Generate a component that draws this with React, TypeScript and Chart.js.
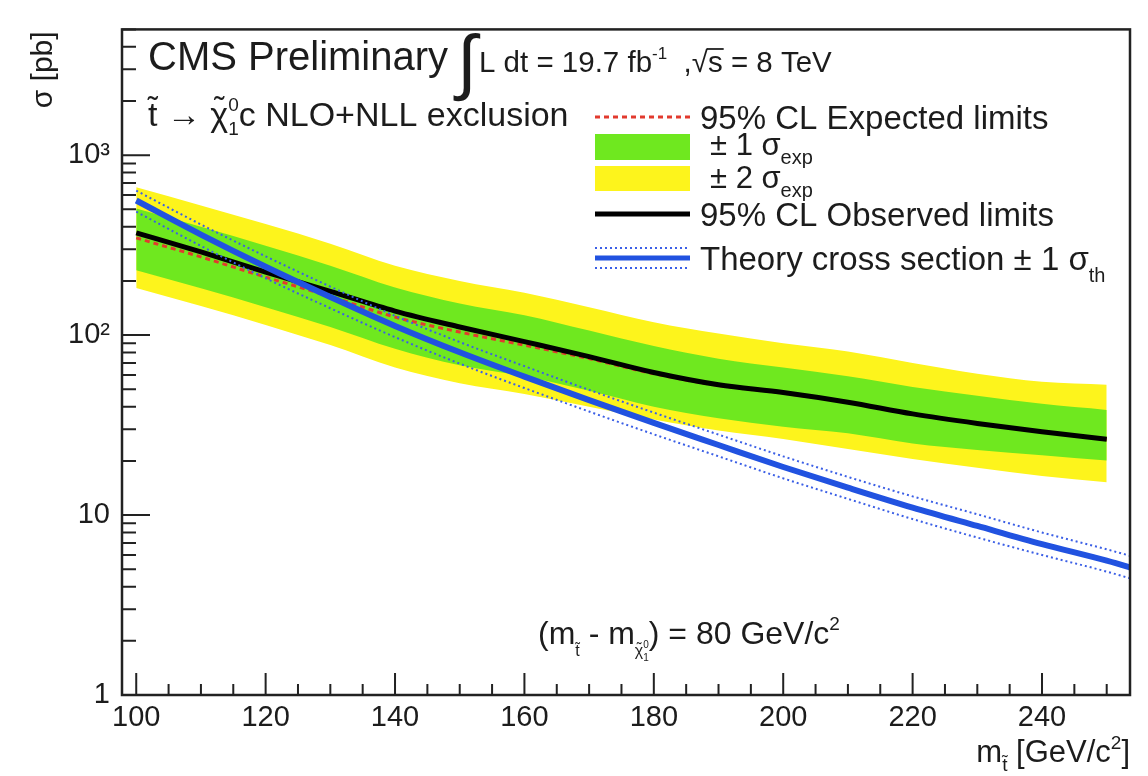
import React, { useEffect, useRef } from 'react';
import { Chart, registerables } from 'chart.js';

Chart.register(...registerables);

// ---------------- data ----------------
const massPoints = [100, 110, 120, 130, 140, 150, 160, 170, 180, 190, 200, 210, 220, 230, 240, 250];
const observedLimit = [370, 290, 224, 175, 136, 111, 92, 76, 62, 53, 48, 42.4, 36.5, 32.3, 29, 26.4];
const expectedLimit = [347, 272, 210, 164, 126, 104, 88, 74, 61, 52.5, 47.5, 42.4, 36.5, 32.3, 29, 26.4];
const expMinus2 = [183, 145, 114, 88, 66, 54, 47, 40, 34, 29.5, 26.5, 23.3, 20.5, 18.3, 16.5, 15.2];
const expMinus1 = [229, 182, 143, 111, 84, 68, 59, 49, 40, 34.5, 31, 28.5, 25, 23, 21.5, 20.1];
const expPlus1 = [505, 400, 314, 243, 184, 150, 129, 106, 87, 74, 66, 59, 51.5, 46, 41.5, 38.4];
const expPlus2 = [663, 525, 414, 322, 243, 200, 172, 143, 118, 102, 90, 81, 70, 61, 55, 53];

const theoryMass = [100, 110, 120, 130, 140, 150, 160, 170, 180, 190, 200, 210, 220, 230, 240, 250, 255];
const theoryXsec = [560, 362, 240, 163, 112.5, 80.3, 58.8, 43.5, 32.5, 24.5, 18.5, 14.2, 11.0, 8.7, 6.9, 5.58, 4.95];
const theoryUp = [635, 412, 274, 186, 128, 91.5, 67.2, 49.6, 37.1, 28, 21.2, 16.3, 12.7, 10.1, 8.0, 6.45, 5.75];
const theoryDown = [485, 313, 207, 141, 97.5, 69.4, 50.8, 37.6, 28.1, 21.2, 16.0, 12.3, 9.5, 7.5, 6.0, 4.85, 4.3];

const xTickValues = [100, 120, 140, 160, 180, 200, 220, 240];
const xMinorStep = 5;
const yTickValues = [1, 10, 100, 1000];
const yTickLabels = ['1', '10', '10²', '10³'];

const X_MIN = 97.8;
const X_MAX = 253.6;
const Y_MIN = 1;
const Y_MAX = 5000;

// ---------------- style ----------------
const FONT = '"Liberation Sans", Arial, Helvetica, sans-serif';
const BLUE = '#2152e0';
const BLUE_DOT = '#3b5fe6';
const RED = '#e23a2e';
const GREEN = '#6fe81f';
const YELLOW = '#fdf41c';
const TEXT = '#1c1c1c';

type Part = { t: string; s: number; dy?: number; noAdv?: boolean; tilde?: boolean; overline?: boolean };

function measureRich(ctx: CanvasRenderingContext2D, parts: Part[]) {
  let w = 0;
  for (const p of parts) {
    ctx.font = `${p.s}px ${FONT}`;
    if (!p.noAdv) w += ctx.measureText(p.t).width;
  }
  return w;
}

function drawRich(ctx: CanvasRenderingContext2D, x: number, y: number, parts: Part[]) {
  let cx = x;
  ctx.fillStyle = TEXT;
  ctx.textBaseline = 'alphabetic';
  ctx.textAlign = 'left';
  for (const p of parts) {
    ctx.font = `${p.s}px ${FONT}`;
    const w = ctx.measureText(p.t).width;
    const by = y + (p.dy || 0);
    ctx.fillText(p.t, cx, by);
    if (p.tilde) {
      ctx.font = `${p.s * 0.9}px ${FONT}`;
      const tw = ctx.measureText('˜').width;
      ctx.fillText('˜', cx + w / 2 - tw / 2, by - p.s * 0.2);
    }
    if (p.overline) {
      ctx.save();
      ctx.strokeStyle = TEXT;
      ctx.lineWidth = Math.max(1, p.s * 0.06);
      ctx.beginPath();
      ctx.moveTo(cx - 1, by - p.s * 0.78);
      ctx.lineTo(cx + w + 1, by - p.s * 0.78);
      ctx.stroke();
      ctx.restore();
    }
    if (!p.noAdv) cx += w;
  }
  return cx;
}

const overlayPlugin = {
  id: 'rootStyle',
  afterDraw(chart: any) {
    const ctx: CanvasRenderingContext2D = chart.ctx;
    const { left, right, top, bottom } = chart.chartArea;
    const xs = chart.scales.x;
    const ys = chart.scales.y;
    ctx.save();

    // frame
    ctx.strokeStyle = '#222';
    ctx.lineWidth = 2.5;
    ctx.strokeRect(left, top, right - left, bottom - top);

    // inward ticks on x axis
    ctx.lineWidth = 2;
    ctx.beginPath();
    for (let v = 100; v <= X_MAX; v += xMinorStep) {
      const px = xs.getPixelForValue(v);
      const major = xTickValues.includes(v);
      const len = major ? 22 : 11;
      ctx.moveTo(px, bottom);
      ctx.lineTo(px, bottom - len);
    }
    // inward ticks on y axis
    for (let d = 1; d <= 1000; d *= 10) {
      for (let k = 1; k <= 9; k++) {
        const v = d * k;
        if (v < Y_MIN || v > Y_MAX) continue;
        const py = ys.getPixelForValue(v);
        const len = k === 1 ? 28 : 14;
        ctx.moveTo(left, py);
        ctx.lineTo(left + len, py);
      }
    }
    ctx.stroke();

    // y axis title (rotated, aligned to top)
    ctx.save();
    ctx.translate(52, top + 2);
    ctx.rotate(-Math.PI / 2);
    ctx.fillStyle = TEXT;
    ctx.font = `30px ${FONT}`;
    ctx.textAlign = 'right';
    ctx.textBaseline = 'alphabetic';
    ctx.fillText('σ [pb]', 0, 0);
    ctx.restore();

    // x axis title (aligned right)
    const xTitle: Part[] = [
      { t: 'm', s: 31 },
      { t: 't', s: 19, dy: 9, tilde: true },
      { t: ' [GeV/c', s: 31 },
      { t: '2', s: 19, dy: -13 },
      { t: ']', s: 31 },
    ];
    const xw = measureRich(ctx, xTitle);
    drawRich(ctx, right - xw, 762, xTitle);

    // header
    drawRich(ctx, 148, 70, [{ t: 'CMS Preliminary', s: 40 }]);
    ctx.fillStyle = TEXT;
    ctx.font = `72px ${FONT}`;
    ctx.fillText('∫', 457, 86);
    drawRich(ctx, 479, 72, [
      { t: 'L dt = 19.7 fb', s: 29.5 },
      { t: '-1', s: 17, dy: -13 },
      { t: '  ,', s: 29.5 },
      { t: '√', s: 29.5 },
      { t: 's', s: 29.5, overline: true },
      { t: ' = 8 TeV', s: 29.5 },
    ]);
    drawRich(ctx, 148, 126, [
      { t: 't', s: 34, tilde: true },
      { t: ' → ', s: 34 },
      { t: 'χ', s: 34, tilde: true },
      { t: '1', s: 19, dy: 9, noAdv: true },
      { t: '0', s: 19, dy: -15 },
      { t: 'c NLO+NLL exclusion', s: 34 },
    ]);

    // legend symbols
    const lx0 = 595;
    const lx1 = 690;
    ctx.setLineDash([5, 4]);
    ctx.strokeStyle = RED;
    ctx.lineWidth = 3;
    ctx.beginPath();
    ctx.moveTo(lx0, 117);
    ctx.lineTo(lx1, 117);
    ctx.stroke();
    ctx.setLineDash([]);
    ctx.fillStyle = GREEN;
    ctx.fillRect(lx0, 134, lx1 - lx0, 26);
    ctx.fillStyle = YELLOW;
    ctx.fillRect(lx0, 166, lx1 - lx0, 25);
    ctx.strokeStyle = '#000';
    ctx.lineWidth = 5;
    ctx.beginPath();
    ctx.moveTo(lx0, 214);
    ctx.lineTo(lx1, 214);
    ctx.stroke();
    ctx.strokeStyle = BLUE;
    ctx.beginPath();
    ctx.moveTo(lx0, 258);
    ctx.lineTo(lx1, 258);
    ctx.stroke();
    ctx.strokeStyle = BLUE_DOT;
    ctx.lineWidth = 2;
    ctx.setLineDash([2, 3]);
    ctx.beginPath();
    ctx.moveTo(lx0, 248);
    ctx.lineTo(lx1, 248);
    ctx.moveTo(lx0, 268);
    ctx.lineTo(lx1, 268);
    ctx.stroke();
    ctx.setLineDash([]);

    // legend text
    drawRich(ctx, 700, 129, [{ t: '95% CL Expected limits', s: 33 }]);
    drawRich(ctx, 710, 155, [
      { t: '± 1 σ', s: 31 },
      { t: 'exp', s: 20, dy: 9 },
    ]);
    drawRich(ctx, 710, 188, [
      { t: '± 2 σ', s: 31 },
      { t: 'exp', s: 20, dy: 9 },
    ]);
    drawRich(ctx, 700, 226, [{ t: '95% CL Observed limits', s: 33 }]);
    drawRich(ctx, 700, 270, [
      { t: 'Theory cross section ± 1 σ', s: 33 },
      { t: 'th', s: 20, dy: 12 },
    ]);

    // annotation
    drawRich(ctx, 538, 644, [
      { t: '(m', s: 32 },
      { t: 't', s: 16, dy: 12, tilde: true },
      { t: ' - m', s: 32 },
      { t: 'χ', s: 16, dy: 12, tilde: true },
      { t: '1', s: 10, dy: 17, noAdv: true },
      { t: '0', s: 10, dy: 4 },
      { t: ') = 80 GeV/c', s: 32 },
      { t: '2', s: 19, dy: -14 },
    ]);

    ctx.restore();
  },
};

export default function App() {
  const ref = useRef<HTMLCanvasElement>(null);

  useEffect(() => {
    const canvas = ref.current;
    if (!canvas) return;
    const mk = (xs: number[], ys: number[]) => xs.map((x, i) => ({ x, y: ys[i] }));
    const base = {
      pointRadius: 0,
      pointHoverRadius: 0,
      cubicInterpolationMode: 'monotone' as const,
    };
    const chart = new Chart(canvas, {
      type: 'line',
      data: {
        datasets: [
          { ...base, label: 'Theory', data: mk(theoryMass, theoryXsec), borderColor: BLUE, borderWidth: 6, fill: false },
          { ...base, label: 'Theory +1', data: mk(theoryMass, theoryUp), borderColor: BLUE_DOT, borderWidth: 2, borderDash: [2, 3], fill: false },
          { ...base, label: 'Theory -1', data: mk(theoryMass, theoryDown), borderColor: BLUE_DOT, borderWidth: 2, borderDash: [2, 3], fill: false },
          { ...base, label: 'Observed', data: mk(massPoints, observedLimit), borderColor: '#000', borderWidth: 5, fill: false },
          { ...base, label: 'Expected', data: mk(massPoints, expectedLimit), borderColor: RED, borderWidth: 3, borderDash: [5, 4], fill: false },
          { ...base, label: '+1 sigma', data: mk(massPoints, expPlus1), borderColor: 'rgba(0,0,0,0)', borderWidth: 0, backgroundColor: GREEN, fill: 6 },
          { ...base, label: '-1 sigma', data: mk(massPoints, expMinus1), borderColor: 'rgba(0,0,0,0)', borderWidth: 0, fill: false },
          { ...base, label: '+2 sigma', data: mk(massPoints, expPlus2), borderColor: 'rgba(0,0,0,0)', borderWidth: 0, backgroundColor: YELLOW, fill: 8 },
          { ...base, label: '-2 sigma', data: mk(massPoints, expMinus2), borderColor: 'rgba(0,0,0,0)', borderWidth: 0, fill: false },
        ],
      },
      options: {
        responsive: false,
        animation: false,
        events: [],
        layout: { padding: { top: 13, right: 18, left: 0, bottom: 0 } },
        plugins: {
          legend: { display: false },
          tooltip: { enabled: false },
          title: { display: false },
        },
        scales: {
          x: {
            type: 'linear',
            min: X_MIN,
            max: X_MAX,
            grid: { display: false, drawTicks: false },
            border: { display: false },
            afterBuildTicks: (s: any) => {
              s.ticks = xTickValues.map((v) => ({ value: v }));
            },
            afterFit: (s: any) => {
              s.height = 81;
            },
            ticks: {
              padding: 6,
              autoSkip: false,
              maxRotation: 0,
              color: TEXT,
              font: { family: FONT, size: 29 },
              callback: (v: any) => String(v),
            },
          },
          y: {
            type: 'logarithmic',
            min: Y_MIN,
            max: Y_MAX,
            grid: { display: false, drawTicks: false },
            border: { display: false },
            afterBuildTicks: (s: any) => {
              s.ticks = yTickValues.map((v) => ({ value: v }));
            },
            afterFit: (s: any) => {
              s.width = 122;
            },
            ticks: {
              padding: 12,
              autoSkip: false,
              color: TEXT,
              font: { family: FONT, size: 29 },
              callback: (v: any) => {
                const i = yTickValues.indexOf(Number(v));
                return i >= 0 ? yTickLabels[i] : '';
              },
            },
          },
        },
      },
      plugins: [overlayPlugin],
    });
    return () => chart.destroy();
  }, []);

  return (
    <div style={{ position: 'fixed', left: 0, top: 0, width: 1148, height: 776, background: '#fff' }}>
      <canvas ref={ref} width={1148} height={776} style={{ display: 'block', width: 1148, height: 776 }} />
    </div>
  );
}
